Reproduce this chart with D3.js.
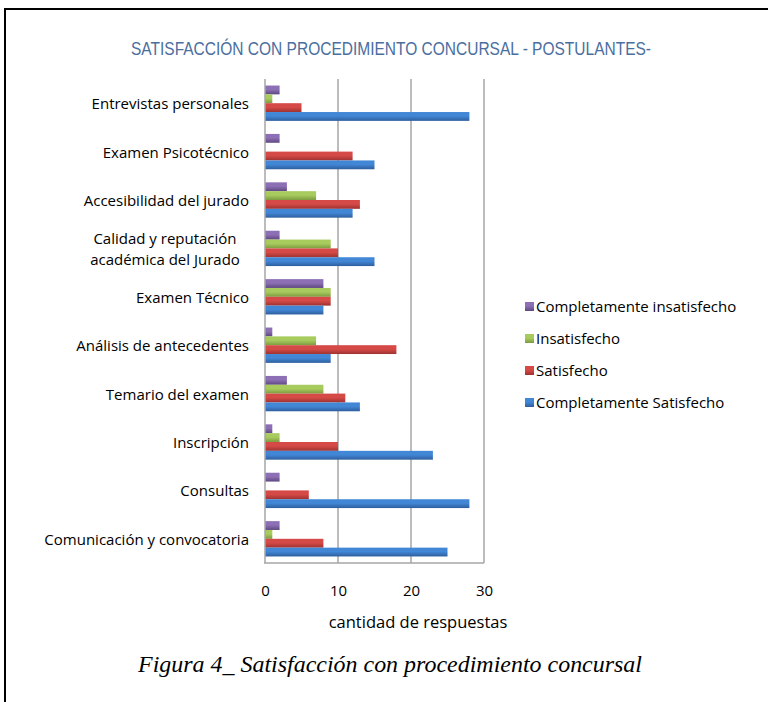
<!DOCTYPE html>
<html><head><meta charset="utf-8">
<script src="https://cdn.jsdelivr.net/npm/d3@7/dist/d3.min.js"></script>
<style>body{margin:0;background:#fff}svg{display:block}</style>
</head><body>
<script>
const categories = ["Entrevistas personales","Examen Psicotécnico","Accesibilidad del jurado","Calidad y reputación\nacadémica del Jurado","Examen Técnico","Análisis de antecedentes","Temario del examen","Inscripción","Consultas","Comunicación y convocatoria"];
const seriesNames = ["Completamente insatisfecho","Insatisfecho","Satisfecho","Completamente Satisfecho"];
const compInsat = [2,2,3,2,8,1,3,1,2,2];
const insat     = [1,0,7,9,9,7,8,2,0,1];
const satis     = [5,12,13,10,9,18,11,10,6,8];
const compSatis = [28,15,12,15,8,9,13,23,28,25];
const seriesValues = [compInsat, insat, satis, compSatis];
const xTicks = [0,10,20,30];
const colors = [["#8C6FB4","#5E4880"],["#A8CB5E","#7C9B40"],["#D54A47","#9E3230"],["#4287D6","#2E5E9E"]];

(function(){
const W=768,H=702;
const svg=d3.select("body").append("svg").attr("width",W).attr("height",H);
const defs=svg.append("defs");
colors.forEach((c,i)=>{
  const g=defs.append("linearGradient").attr("id","g"+i).attr("x1",0).attr("y1",0).attr("x2",0).attr("y2",1);
  g.append("stop").attr("offset","0%").attr("stop-color",c[0]);
  g.append("stop").attr("offset","45%").attr("stop-color",c[0]);
  g.append("stop").attr("offset","100%").attr("stop-color",c[1]);
});

// frame
svg.append("line").attr("x1",4).attr("x2",W).attr("y1",9).attr("y2",9).attr("stroke","#000").attr("stroke-width",2);
svg.append("line").attr("x1",5).attr("x2",5).attr("y1",9).attr("y2",H).attr("stroke","#000").attr("stroke-width",2);

svg.append("text").attr("x",391).attr("y",54.5).attr("text-anchor","middle")
  .attr("font-family","'Liberation Sans Narrow','Arial Narrow','Liberation Sans',sans-serif")
  .attr("font-size",17.5).attr("fill","#4A6E9E")
  .attr("textLength",520).attr("lengthAdjust","spacingAndGlyphs")
  .text("SATISFACCIÓN CON PROCEDIMIENTO CONCURSAL - POSTULANTES-");

const pLeft=265,pRight=484,pTop=79,pBottom=563;
const x=d3.scaleLinear().domain([0,30]).range([pLeft,pRight]);
const y=d3.scaleBand().domain(categories).range([pTop,pBottom]).paddingInner(0.27).paddingOuter(0.135);
const ys=d3.scaleBand().domain(d3.range(4)).range([0,y.bandwidth()]);

// gridlines
svg.append("g").selectAll("line").data(xTicks.slice(1)).join("line")
  .attr("x1",d=>x(d)).attr("x2",d=>x(d)).attr("y1",pTop).attr("y2",pBottom)
  .attr("stroke","#A6A6A6").attr("stroke-width",1.5);

// bars
seriesValues.forEach((vals,si)=>{
  svg.append("g").selectAll("rect").data(vals).join("rect")
    .attr("x",x(0)).attr("y",(d,i)=>y(categories[i])+ys(si))
    .attr("width",d=>x(d)-x(0)).attr("height",ys.bandwidth())
    .attr("fill","url(#g"+si+")");
});

// axes lines
svg.append("line").attr("x1",x(0)).attr("x2",x(0)).attr("y1",pTop).attr("y2",pBottom).attr("stroke","#A6A6A6").attr("stroke-width",1.5);
svg.append("line").attr("x1",x(0)-1).attr("x2",pRight).attr("y1",pBottom).attr("y2",pBottom).attr("stroke","#A6A6A6").attr("stroke-width",1.5);

const font="'Open Sans','Liberation Sans',Arial,sans-serif";
// x tick labels
const xa=svg.append("g").attr("transform",`translate(0,${pBottom})`)
  .call(d3.axisBottom(x).tickValues(xTicks).tickSize(0).tickPadding(22).tickFormat(d3.format("d")));
xa.select(".domain").remove();
xa.selectAll("text").attr("font-family",font).attr("font-size",15).attr("fill","#000");

// category labels
const cl=svg.append("g");
categories.forEach(c=>{
  const lines=c.split("\n");
  const cy=y(c)+y.bandwidth()/2;
  if(lines.length===1){
    cl.append("text").attr("x",249).attr("y",cy+6).attr("text-anchor","end")
      .attr("font-family",font).attr("font-size",15).attr("fill","#000").text(c);
  } else {
    lines.forEach((l,k)=>{
      cl.append("text").attr("x",165).attr("y",cy+6+(k-0.5)*21).attr("text-anchor","middle")
        .attr("font-family",font).attr("font-size",15).attr("fill","#000").text(l);
    });
  }
});

svg.append("text").attr("x",418).attr("y",628).attr("text-anchor","middle")
  .attr("font-family",font).attr("font-size",16.5).attr("fill","#000").text("cantidad de respuestas");

// legend
const lg=svg.append("g");
seriesNames.forEach((n,i)=>{
  const ly=306.5+i*32;
  lg.append("rect").attr("x",525).attr("y",ly-4.5).attr("width",9).attr("height",9).attr("fill","url(#g"+i+")");
  lg.append("text").attr("x",536).attr("y",ly+5.5).attr("font-family",font).attr("font-size",15).attr("fill","#000").text(n);
});

svg.append("text").attr("x",390).attr("y",672).attr("text-anchor","middle")
  .attr("font-family","'Liberation Serif','Times New Roman',serif").attr("font-style","italic")
  .attr("font-size",23).attr("fill","#000")
  .attr("textLength",504).attr("lengthAdjust","spacingAndGlyphs")
  .text("Figura 4_ Satisfacción con procedimiento concursal");
})();
</script>
</body></html>
